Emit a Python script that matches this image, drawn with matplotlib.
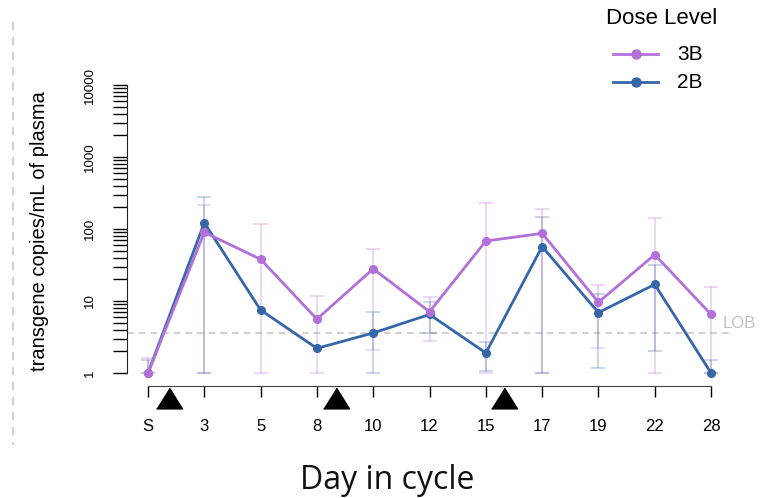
import numpy as np
import matplotlib
matplotlib.use('Agg')
import matplotlib.pyplot as plt
from matplotlib.transforms import blended_transform_factory

plt.rcParams['font.family'] = ['Liberation Sans', 'DejaVu Sans']

# data
days = ['S', '3', '5', '8', '10', '12', '15', '17', '19', '22', '28']
mean_3b = [1, 90, 38, 5.6, 28, 7.1, 68, 87, 9.6, 44, 6.5]
lo_3b = [1, 1, 1, 1, 2.1, 2.8, 1, 1, 2.2, 1, 1]
hi_3b = [1.6, 215, 116, 11.7, 53, 11.5, 228, 187, 16.7, 144, 15.5]
mean_2b = [1, 122, 7.5, 2.2, 3.6, 6.5, 1.9, 57, 6.9, 17, 1]
lo_2b = [1, 1, None, None, 1, 3.6, 1.07, 1, 1.16, 2.0, 1]
hi_2b = [1.5, 278, None, None, 7.0, 9.8, 2.7, 145, 12.4, 32, 1.5]
lob = 3.6
dose_pos = [0.37, 3.34, 6.32]   # dosing marks between days (in day index units)

c3b = '#b370d9'
c2b = '#3566a9'

fig = plt.figure(figsize=(7.74, 4.98), dpi=100)
ax = fig.add_axes([127/774, 1-386/498, (733-127)/774, (386-80)/498])

x = np.arange(len(days))


def bars(mean, lo, hi, col):
    m = np.array(mean, dtype=float)
    l = np.array(lo, dtype=float)
    h = np.array(hi, dtype=float)
    ax.errorbar(x, m, yerr=[m - l, h - m], fmt='none', ecolor=col, alpha=0.35,
                elinewidth=1.1, capsize=4.7, capthick=1.1, zorder=1)


bars(mean_2b, lo_2b, hi_2b, c2b)
bars(mean_3b, lo_3b, hi_3b, c3b)

ax.axhline(lob, color='#c8c8c8', lw=1.2, ls=(0, (4, 3)), zorder=0)
ax.text(10.2, lob * 1.35, 'LOB', color='#c0c0c0', fontsize=12, ha='left', va='center',
        clip_on=False)

l2, = ax.plot(x, mean_2b, '-o', color=c2b, lw=2, ms=5.5, zorder=3, clip_on=False)
l3, = ax.plot(x, mean_3b, '-o', color=c3b, lw=2, ms=5.5, zorder=4, clip_on=False)

ax.set_yscale('log')
ax.set_xlim(-0.373, 10.39)
ax.set_ylim(10**(-13/72), 10**(293/72))
ax.set_yticks([1, 10, 100, 1000, 10000])
ax.set_yticklabels(['1', '10', '100', '1000', '10000'], rotation=90, va='center', fontsize=9.5)
minor = [m * 10**d for d in range(4) for m in range(2, 10)]
ax.yaxis.set_minor_locator(matplotlib.ticker.FixedLocator(minor))
ax.yaxis.set_minor_formatter(matplotlib.ticker.NullFormatter())
ax.tick_params(axis='y', which='both', direction='out', length=10, width=1, pad=12)
ax.set_xticks(x)
ax.set_xticklabels(days, fontsize=12)
ax.tick_params(axis='x', direction='out', length=8, width=1, pad=16)

for s in ['top', 'right']:
    ax.spines[s].set_visible(False)
ax.spines['left'].set_bounds(1, 10000)
ax.spines['bottom'].set_bounds(0, 10)
ax.spines['left'].set_color('#222222')
ax.spines['bottom'].set_color('#444444')

# dosing triangles under the x axis
tr = blended_transform_factory(ax.transData, ax.transAxes)
tri = [(-1, -0.8), (1, -0.8), (0, 0.8)]
ax.plot(dose_pos, [-11.5/306]*len(dose_pos), ls='none', marker=tri, ms=18.7,
        color='black', transform=tr, clip_on=False, zorder=5)

fig.text(40/774, 1-231/498, 'transgene copies/mL of plasma', rotation=90,
         ha='center', va='center', fontsize=14.5)
fig.text(387/774, 1-480/498, 'Day in cycle', ha='center', va='center',
         fontsize=23, color='#111111', family=['Open Sans', 'DejaVu Sans'])

# vertical dashed rule at far left
fig.add_artist(plt.Line2D([13/774, 13/774], [1-22/498, 1-445/498], color='#c8c8c8',
                          lw=1.2, ls=(0, (5, 4)), transform=fig.transFigure))

# legend drawn by hand
fig.text(662/774, 1-19/498, 'Dose Level', ha='center', va='center', fontsize=16)
for yy, col, lab in [(54, c3b, '3B'), (82, c2b, '2B')]:
    fig.add_artist(plt.Line2D([613/774, 658/774], [1-yy/498, 1-yy/498], color=col,
                              lw=2, transform=fig.transFigure))
    fig.add_artist(plt.Line2D([636/774], [1-yy/498], color=col, marker='o', ms=6.5,
                              transform=fig.transFigure))
    fig.text(677/774, 1-yy/498, lab, ha='left', va='center', fontsize=15)

fig.savefig('out.png', dpi=100)
